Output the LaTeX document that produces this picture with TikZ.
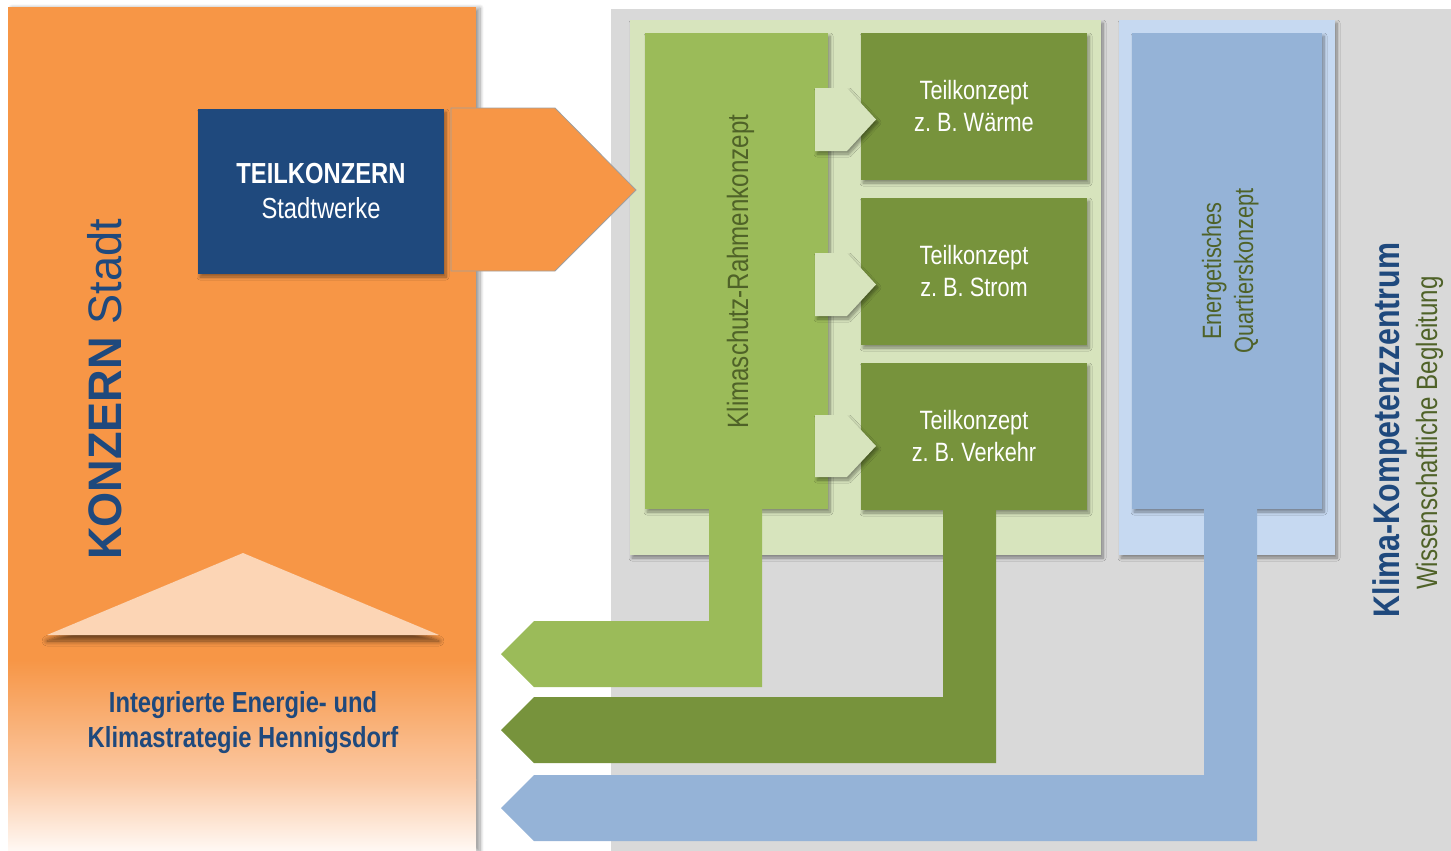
\documentclass[tikz,border=0pt]{standalone}
\usepackage{fontspec}
\setmainfont{Liberation Sans}
\newfontfamily\narrowfont[FakeStretch=0.82]{Liberation Sans}
\newfontfamily\konzfont[FakeStretch=0.96]{Liberation Sans}
\usetikzlibrary{shadows.blur}
\frenchspacing
\definecolor{orng}{HTML}{F79646}
\definecolor{orngpale}{HTML}{FBC9A4}
\definecolor{orngwhite}{HTML}{FFF8F3}
\definecolor{peach}{HTML}{FCD5B5}
\definecolor{dblue}{HTML}{1F497D}
\definecolor{bggray}{HTML}{D9D9D9}
\definecolor{lgreen}{HTML}{D7E4BD}
\definecolor{mgreen}{HTML}{9BBB59}
\definecolor{dgreen}{HTML}{77933C}
\definecolor{tgreen}{HTML}{4F6228}
\definecolor{lblue}{HTML}{C6D9F1}
\definecolor{mblue}{HTML}{95B3D7}
\tikzset{
  sh/.style={blur shadow={shadow xshift=2pt, shadow yshift=-3pt, shadow blur radius=3pt, shadow blur steps=8, shadow opacity=40}},
  box/.style={rectangle, inner sep=0pt, outer sep=0pt, anchor=north west},
  tkbox/.style={box, sh, fill=dgreen, minimum width=226pt, minimum height=147pt, text=white, align=center, font=\narrowfont\frenchspacing\fontsize{26.5}{32}\selectfont},
  vtext/.style={rotate=90, anchor=base, inner sep=0pt},
  link/.style={sh, fill=lgreen}
}
\begin{document}
\begin{tikzpicture}[x=1pt,y=-1pt]
\useasboundingbox (0,0) rectangle (1451,851);
% grey background
\fill[bggray] (611,9) rectangle (1451,851);
% panels
\path[sh, fill=lgreen] (630,20) rectangle (1101,555);
\path[sh, fill=lblue] (1119,20) rectangle (1335,555);
% columns
\node[box, sh, fill=mgreen, minimum width=183pt, minimum height=476pt] (rahmen) at (645,33) {};
\node[box, sh, fill=mblue, minimum width=190pt, minimum height=476pt] (quartier) at (1132,33) {};
% Teilkonzept boxes
\node[tkbox] (tk1) at (861,33) {Teilkonzept\\z. B. Wärme};
\node[tkbox] (tk2) at (861,198) {Teilkonzept\\z. B. Strom};
\node[tkbox] (tk3) at (861,363) {Teilkonzept\\z. B. Verkehr};
% small link arrows
\path[link] (815,88) -- (847,88) -- (876,119.5) -- (847,151) -- (815,151) -- cycle;
\path[link] (815,253) -- (847,253) -- (876,284.5) -- (847,316) -- (815,316) -- cycle;
\path[link] (815,415) -- (847,415) -- (876,446) -- (847,477) -- (815,477) -- cycle;
% return arrows
\fill[mgreen] (709,505) -- (762,505) -- (762,687) -- (534,687) -- (501,654) -- (534,621) -- (709,621) -- cycle;
\fill[dgreen] (943,505) -- (996,505) -- (996,763) -- (534,763) -- (501,730) -- (534,697) -- (943,697) -- cycle;
\fill[mblue] (1204,505) -- (1257,505) -- (1257,841) -- (534,841) -- (501,808) -- (534,775) -- (1204,775) -- cycle;
% texts in columns
\node[vtext, text=tgreen, font=\narrowfont\fontsize{29.4}{35}\selectfont] (rahmentxt) at (748,271.5) {Klimaschutz-Rahmenkonzept};
\node[vtext, text=tgreen, font=\narrowfont\fontsize{26.5}{32}\selectfont] (qtxt1) at (1221,271) {Energetisches};
\node[vtext, text=tgreen, font=\narrowfont\fontsize{26.5}{32}\selectfont] (qtxt2) at (1253,271) {Quartierskonzept};
% right labels
\node[vtext, text=dblue, font=\narrowfont\bfseries\fontsize{37}{44}\selectfont] (kkz) at (1399,430) {Klima-Kompetenzzentrum};
\node[vtext, text=tgreen, font=\narrowfont\fontsize{29.4}{35}\selectfont] (wb) at (1437,433) {Wissenschaftliche Begleitung};
% orange block
\path[blur shadow={shadow xshift=4pt, shadow yshift=-1pt, shadow blur radius=4pt, shadow blur steps=8, shadow opacity=40}, fill=orng] (8,7) rectangle (476,850);
\shade[top color=orng, bottom color=orngpale] (8,660) rectangle (476,780);
\shade[top color=orngpale, bottom color=orngwhite] (8,779.5) rectangle (476,850);
% roof
\path[blur shadow={shadow xshift=0pt, shadow yshift=-6pt, shadow blur radius=5pt, shadow blur steps=8, shadow opacity=55}, fill=peach] (47,635) -- (243,553) -- (439,635) -- cycle;
% Konzern label
\node[vtext, text=dblue, font=\konzfont\fontsize{47}{56}\selectfont] (konzern) at (121,389.5) {\textbf{KONZERN} Stadt};
% Teilkonzern box
\node[box, sh, fill=dblue, minimum width=246pt, minimum height=165pt, align=center, text=white, font=\narrowfont\fontsize{29}{35}\selectfont] (stadtwerke) at (198,109) {\textbf{TEILKONZERN}\\Stadtwerke};
% orange arrow
\path[fill=orng, draw=gray!75, line width=0.8pt] (451,108) -- (555,108) -- (636,190) -- (555,271) -- (451,271) -- cycle;
% strategy text
\node[align=center, inner sep=0pt, text=dblue, font=\narrowfont\bfseries\fontsize{29}{35}\selectfont] (strategie) at (243,723) {Integrierte Energie- und\\Klimastrategie Hennigsdorf};
\end{tikzpicture}
\end{document}
